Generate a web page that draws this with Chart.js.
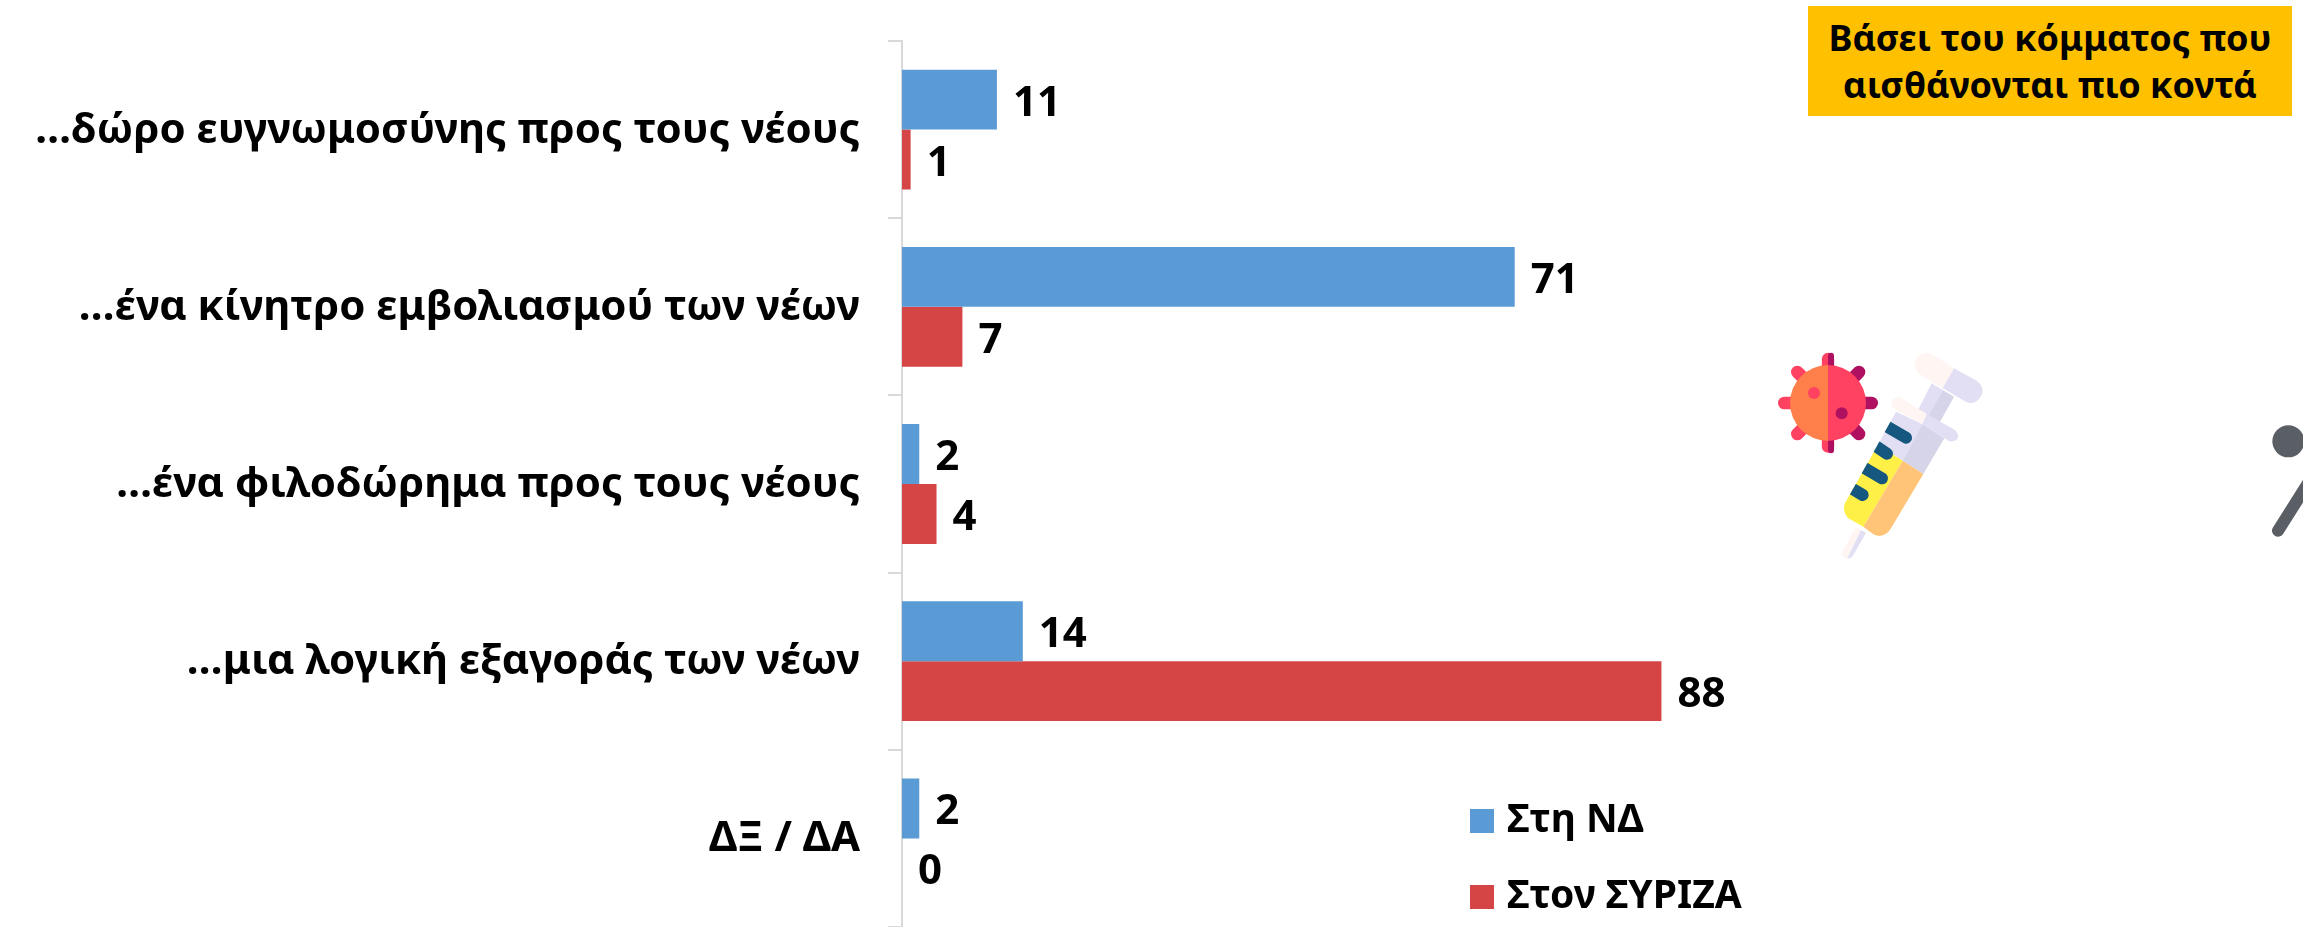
<!DOCTYPE html>
<html lang="el">
<head>
<meta charset="utf-8">
<title>Chart</title>
<style>
html,body{margin:0;padding:0;background:#fff;overflow:hidden;width:2303px;height:927px}
#wrap{position:relative;width:2303px;height:927px}
#badge{position:absolute;left:1808px;top:6px;width:484px;height:110px;background:#FFC000;color:#000;
font:700 36px/47px "Noto Sans",sans-serif;text-align:center;display:flex;align-items:center;justify-content:center}
#icons{position:absolute;left:1760px;top:340px;width:240px;height:240px}
#person{position:absolute;left:2223px;top:400px;width:80px;height:160px}
canvas{position:absolute;left:0;top:0}
</style>
<script src="https://cdn.jsdelivr.net/npm/chart.js@4"></script>
</head>
<body>
<div id="wrap">
<canvas id="c" width="2303" height="927"></canvas>
<div id="badge"><div>Βάσει του κόμματος που<br>αισθάνονται πιο κοντά</div></div>
<svg id="icons" viewBox="0 0 720 720" xmlns="http://www.w3.org/2000/svg">
  <defs><clipPath id="barrel"><path d="M408 215L553 295L393 565Q372 598 340 583L265 535Q245 515 255 490Z"/></clipPath></defs>
  <g stroke-linecap="round">
    <path d="M204 57V320" stroke="#FF4262" stroke-width="37"/>
    <rect x="204" y="38" width="18" height="60" rx="9" fill="#B01060"/><rect x="204" y="282" width="18" height="58" rx="9" fill="#B01060"/>
    <path d="M73 189H150" stroke="#FF4262" stroke-width="38"/><path d="M335 189H260" stroke="#B01060" stroke-width="38"/>
    <path d="M112 96L160 144" stroke="#FF4262" stroke-width="38"/><path d="M112 282L160 234" stroke="#FF4262" stroke-width="38"/>
    <path d="M297 96L250 144" stroke="#B01060" stroke-width="38"/><path d="M297 282L250 234" stroke="#B01060" stroke-width="38"/>
  </g>
  <path d="M204 75A114 114 0 0 0 204 303Z" fill="#FF7F4A"/>
  <path d="M204 75A114 114 0 0 1 204 303Z" fill="#FF4262"/>
  <circle cx="162" cy="159" r="18" fill="#FF4262"/><circle cx="245" cy="220" r="18" fill="#B01060"/>
  <path d="M288 562L303 570L262 655Q245 655 245 638Z" fill="#FFF5F3"/>
  <path d="M303 570L318 578L280 645Q272 658 262 655Z" fill="#E2DFF4"/>
  <path d="M515 130L548 150L505 228L475 208Z" fill="#E2DFF4"/>
  <path d="M548 150L582 170L540 245L505 228Z" fill="#D5D4E8"/>
  <path d="M582 85L520 45Q495 32 475 48Q452 75 475 100L548 145Z" fill="#FFF5F3"/>
  <path d="M582 85L650 122Q675 140 665 165Q650 195 620 187L548 145Z" fill="#E2DFF4"/>
  <path d="M408 215L487 252L428 362L354 314Z" fill="#E2DFF4"/>
  <path d="M487 252L553 295L490 402L428 362Z" fill="#D5D4E8"/>
  <path d="M354 314L428 362L310 560L265 535Q245 515 255 490Z" fill="#FFF047"/>
  <path d="M428 362L490 402L393 565Q372 598 340 583L310 560Z" fill="#FFC477"/>
  <path d="M420 172Q395 170 394 192Q396 205 410 210L487 252L500 222Z" fill="#FFF5F3"/>
  <path d="M500 222L585 270Q600 285 592 298Q580 308 565 302L487 252Z" fill="#E2DFF4"/>
  <g clip-path="url(#barrel)" stroke="#15577F" stroke-width="36" stroke-linecap="round">
    <path d="M385 262L438 293"/><path d="M350 320L381 341"/><path d="M315 385L366 415"/><path d="M275 445L308 465"/>
  </g>
</svg>
<svg id="person" viewBox="0 0 240 480" xmlns="http://www.w3.org/2000/svg">
  <circle cx="196" cy="124" r="48" fill="#5A5F66"/>
  <path d="M165 392L255 250" stroke="#5A5F66" stroke-width="36" stroke-linecap="round"/>
</svg>
</div>
<script>
const categories = ["…δώρο ευγνωμοσύνης προς τους νέους","…ένα κίνητρο εμβολιασμού των νέων","…ένα φιλοδώρημα προς τους νέους","…μια λογική εξαγοράς των νέων","ΔΞ / ΔΑ"];
const seriesND = [11,71,2,14,2];
const seriesSyriza = [1,7,4,88,0];
const seriesNames = ["Στη ΝΔ","Στον ΣΥΡΙΖΑ"];
const seriesColors = ['#5B9BD5','#D64545'];
const FONT = '"Noto Sans", sans-serif';
const PX_PER_UNIT = 8.63;

function swatch(color){
  const cv = document.createElement('canvas');
  cv.width = 24; cv.height = 24;
  const g = cv.getContext('2d');
  g.fillStyle = color; g.fillRect(0,0,24,24);
  return cv;
}
const swatches = seriesColors.map(swatch);

const valueLabels = {
  id:'valueLabels',
  afterDatasetsDraw(chart){
    const ctx = chart.ctx;
    ctx.save();
    ctx.font = '700 42px '+FONT;
    ctx.fillStyle = '#000';
    ctx.textAlign = 'left';
    ctx.textBaseline = 'middle';
    chart.data.datasets.forEach((ds,i)=>{
      chart.getDatasetMeta(i).data.forEach((el,j)=>{
        ctx.fillText(String(ds.data[j]), el.x + 16, el.y + 4);
      });
    });
    ctx.restore();
  }
};
const fixLayout = {
  id:'fixLayout',
  afterLayout(chart){
    const l = chart.legend, w = l.width, h = l.height;
    l.left = 1439.5; l.right = l.left + w; l.top = 764.5; l.bottom = l.top + h;
    const x = chart.scales.x;
    x.min = 0; x.max = x.width / PX_PER_UNIT;
    x.configure();
  }
};
new Chart(document.getElementById('c'),{
  type:'bar',
  data:{labels:categories,datasets:[
    {label:seriesNames[0],data:seriesND,backgroundColor:seriesColors[0]},
    {label:seriesNames[1],data:seriesSyriza,backgroundColor:seriesColors[1]}
  ]},
  plugins:[valueLabels,fixLayout],
  options:{
    indexAxis:'y',responsive:false,animation:false,
    layout:{padding:{top:41,bottom:-1,left:0,right:0}},
    datasets:{bar:{categoryPercentage:0.676,barPercentage:1}},
    plugins:{
      tooltip:{enabled:false},
      legend:{display:true,position:'right',align:'start',
        labels:{usePointStyle:true,pointStyleWidth:11,boxHeight:24,padding:37,color:'#000',
          font:{family:FONT,size:39,weight:'700'},
          generateLabels(chart){
            const items = Chart.defaults.plugins.legend.labels.generateLabels(chart);
            items.forEach((it,i)=>{it.pointStyle = swatches[i];});
            return items;
          }}}
    },
    scales:{
      x:{display:false,min:0},
      y:{
        afterFit(s){s.width=902;s.paddingTop=0;s.paddingBottom=0;},
        border:{color:'#D9D9D9',width:2},
        grid:{color:'#D9D9D9',lineWidth:2,drawOnChartArea:false,drawTicks:true,tickLength:14},
        ticks:{autoSkip:false,padding:28,labelOffset:1,color:'#000',font:{family:FONT,size:42,weight:'700'}}
      }
    }
  }
});
</script>
</body>
</html>
